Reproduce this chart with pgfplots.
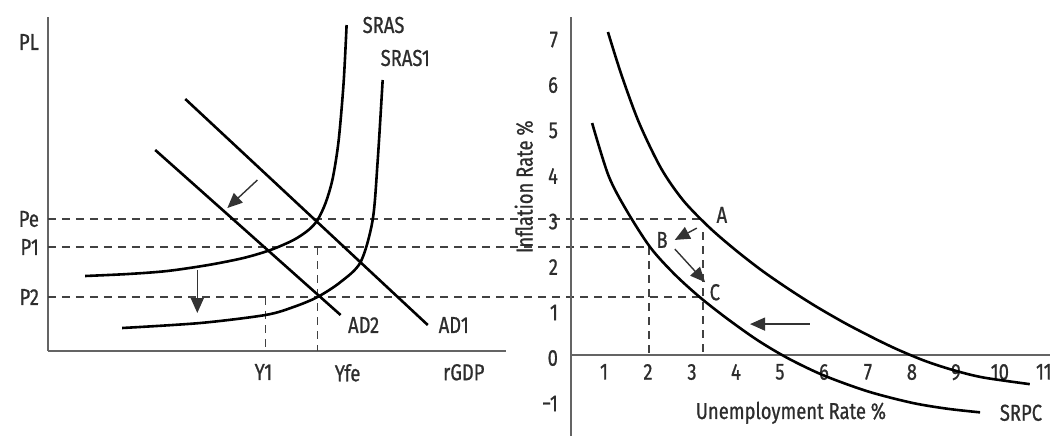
\documentclass[border=0pt]{standalone}
\usepackage{fontspec}
\setmainfont{Fira Sans}[FakeStretch=0.8, FakeBold=0.8]
\usepackage{pgfplots}
\pgfplotsset{compat=1.18}
\usetikzlibrary{arrows.meta}

\definecolor{txt}{RGB}{45,45,45}
\definecolor{axc}{RGB}{100,100,100}
\definecolor{dsh}{RGB}{65,65,65}

\tikzset{
  lbl/.style={text=txt, font=\fontsize{11.5}{13}\selectfont},
}
\pgfplotsset{
  curve/.style={black, line width=1.3pt, smooth, tension=0.5, no marks},
  guide/.style={dsh, line width=0.8pt, dash pattern=on 4pt off 3pt, no marks},
  shift/.style={black!80, line width=0.7pt, no marks, -{Triangle[length=7.5pt,width=6.5pt]}},
}

\begin{document}
\begin{tikzpicture}
% AD-AS panel (coordinates in pixels of the original, origin at the axes corner)
\begin{axis}[
  name=ad, at={(0,0)}, anchor=south west,
  scale only axis, width=228.5pt, height=167pt,
  xmin=0, xmax=457, ymin=0, ymax=334,
  axis x line*=bottom, axis y line*=left,
  axis line style={axc, line width=1pt},
  xtick={215,299,415}, xticklabels={Y1,Yfe,rGDP},
  ytick={54,104,132}, yticklabels={P2,P1,Pe},
  major tick length=0pt,
  tick label style={lbl},
  xticklabel style={yshift=-3pt},
  yticklabel style={xshift=-1pt},
  clip=false,
]
% guide lines, running on into the Phillips panel
\addplot[guide] coordinates {(0,132) (652,132)};
\addplot[guide] coordinates {(0,104) (601,104)};
\addplot[guide] coordinates {(0,54) (650,54)};
\addplot[guide] coordinates {(217,54) (217,0)};
\addplot[guide] coordinates {(269,104) (269,0)};

% SRAS
\addplot[curve] coordinates {
  (37,75) (80,77) (119,80) (160,86) (195,93) (222,101) (245,111)
  (260,121) (269,131) (277,148) (284,172) (290,210) (295,268) (298,326)
};
% SRAS1
\addplot[curve] coordinates {
  (74,23) (152,28) (217,36) (245,44) (269,54) (292,69) (312,89)
  (324,131) (329,190) (334,271)
};
% AD1 and AD2
\addplot[black, line width=1.3pt, no marks] coordinates {(137,252) (379,26)};
\addplot[black, line width=1.3pt, no marks] coordinates {(107,201) (292,36)};

\addplot[shift] coordinates {(209,171) (179,143)};
\addplot[shift] coordinates {(149,81) (149,38)};

\node[lbl, anchor=west] at (axis cs:-36,309) {PL};
\node[lbl, anchor=west] at (axis cs:307,326) {SRAS};
\node[lbl, anchor=west] at (axis cs:325,293) {SRAS1};
\node[lbl] at (axis cs:315,26) {AD2};
\node[lbl] at (axis cs:405,26) {AD1};
\end{axis}

% Phillips curve panel
\begin{axis}[
  name=pc, at={(261.5pt,-42.5pt)}, anchor=south west,
  scale only axis, width=239.5pt, height=209.5pt,
  xmin=0.25, xmax=11.14, ymin=-1.78, ymax=7.43,
  axis x line*=middle, axis y line*=left,
  axis line style={axc, line width=1pt},
  xtick={1,2,...,11}, ytick={-1,0,1,2,3,4,5,6,7},
  yticklabels={−1,0,1,2,3,4,5,6,7},
  /pgf/number format/assume math mode=true,
  major tick length=0pt,
  tick label style={lbl},
  xticklabel style={yshift=-1pt},
  yticklabel style={xshift=-3pt, yshift=-1.5pt},
  hide obscured x ticks=false, hide obscured y ticks=false,
  clip=false,
]
\addplot[guide] coordinates {(2.02,2.37) (2.02,0)};
\addplot[guide] coordinates {(3.25,2.70) (3.25,0)};

% original curve (through A)
\addplot[curve] coordinates {
  (1.09,7.10) (1.4,6.15) (1.8,5.10) (2.3,4.10) (2.8,3.40) (3.4,2.80)
  (4.0,2.30) (4.6,1.85) (5.2,1.45) (5.8,1.08) (6.5,0.69) (7.2,0.34)
  (7.7,0.11) (8.3,-0.13) (8.9,-0.32) (9.6,-0.49) (10.68,-0.64)
};
% SRPC (through B and C)
\addplot[curve] coordinates {
  (0.73,5.10) (1.1,3.95) (1.5,3.20) (2.05,2.37) (2.6,1.78) (3.18,1.27)
  (3.8,0.80) (4.5,0.32) (5.2,-0.08) (6.0,-0.45) (7.0,-0.80) (8.0,-1.05)
  (8.8,-1.18) (9.55,-1.26)
};

\addplot[shift] coordinates {(3.11,2.79) (2.61,2.53)};
\addplot[shift] coordinates {(2.61,2.33) (3.30,1.60)};
\addplot[shift] coordinates {(5.68,0.68) (4.32,0.68)};

\node[lbl] at (axis cs:3.68,3.08) {A};
\node[lbl] at (axis cs:2.32,2.53) {B};
\node[lbl] at (axis cs:3.52,1.38) {C};
\node[lbl, anchor=west] at (axis cs:9.84,-1.27) {SRPC};
\node[lbl] at (axis cs:5.25,-1.27) {Unemployment Rate \%};
\node[lbl, rotate=90] at (axis cs:-0.82,3.7) {Inflation Rate \%};
\end{axis}

\pgfresetboundingbox
\path[use as bounding box] (-24pt,-42.5pt) rectangle (501pt,175.5pt);
\end{tikzpicture}
\end{document}
